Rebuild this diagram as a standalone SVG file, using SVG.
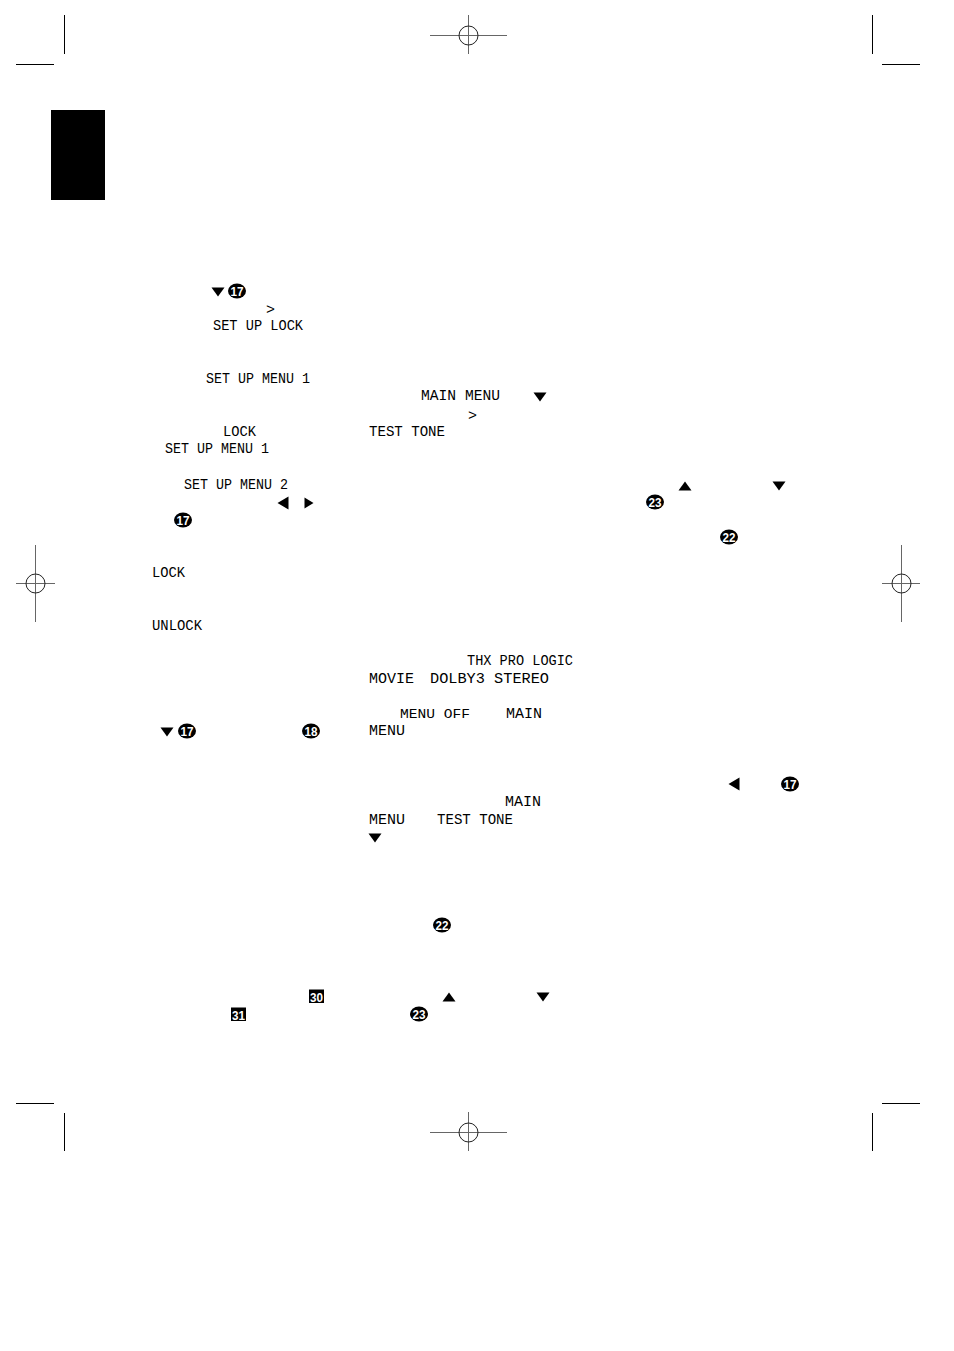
<svg xmlns="http://www.w3.org/2000/svg" width="954" height="1351" viewBox="0 0 954 1351">
<style>
.lcd{font-family:"Liberation Mono","DejaVu Sans Mono",monospace;font-size:15px;fill:#000}
.sm{font-size:12px}
.n{font-family:"Liberation Sans",Arial,sans-serif;font-size:13.500px;font-weight:bold;fill:#fff;text-anchor:middle}
.crop{stroke:#000;stroke-width:1;fill:none}
.reg{stroke:#666;stroke-width:1;fill:none}
</style>
<defs>
<path id="d" d="M-6.500-4.500H6.500L0 4.500Z"/>
<path id="u" d="M-6.500 4.500H6.500L0-4.500Z"/>
<path id="l" d="M5.500-6.500V6.500L-5.500 0Z"/>
<path id="r" d="M-4.500-5.500V5.500L4.500 0Z"/>
<g id="c17"><ellipse rx="9" ry="7.500"/><text class="n" y="5" textLength="13" lengthAdjust="spacingAndGlyphs">17</text></g>
<g id="c18"><ellipse rx="9" ry="7.500"/><text class="n" y="5" textLength="13" lengthAdjust="spacingAndGlyphs">18</text></g>
<g id="c22"><ellipse rx="9" ry="7.500"/><text class="n" y="5" textLength="13" lengthAdjust="spacingAndGlyphs">22</text></g>
<g id="c23"><ellipse rx="9" ry="7.500"/><text class="n" y="5" textLength="13" lengthAdjust="spacingAndGlyphs">23</text></g>
</defs>
<rect width="954" height="1351" fill="#fff"/>
<rect id="tab" x="51" y="110" width="54" height="90" fill="#000"/>
<g id="crop-marks" class="crop">
<path d="M64.500 15V54M16 64.500H54M872.500 15V54M882 64.500H920M16 1103.500H54M64.500 1113V1151M882 1103.500H920M872.500 1113V1151"/>
</g>
<g id="registration" class="reg">
<path d="M430 35.500H507M468.500 15V54"/><circle cx="468.500" cy="35.500" r="9.500" stroke="#222"/>
<path d="M430 1132.500H507M468.500 1112V1151"/><circle cx="468.500" cy="1132.500" r="9.500" stroke="#222"/>
<path d="M16 583.500H55M35.500 545V622"/><circle cx="35.500" cy="583.500" r="9.500" stroke="#222"/>
<path d="M882 583.500H920M901.500 545V622"/><circle cx="901.500" cy="583.500" r="9.500" stroke="#222"/>
</g>
<g id="labels">
<text class="lcd" x="266" y="314" textLength="8">&gt;</text>
<text class="lcd" x="213" y="330" textLength="90" lengthAdjust="spacingAndGlyphs">SET UP LOCK</text>
<text class="lcd" x="206" y="383" textLength="104" lengthAdjust="spacingAndGlyphs">SET UP MENU 1</text>
<text class="lcd" x="223" y="436" textLength="33" lengthAdjust="spacingAndGlyphs">LOCK</text>
<text class="lcd" x="165" y="453" textLength="104" lengthAdjust="spacingAndGlyphs">SET UP MENU 1</text>
<text class="lcd" x="184" y="489" textLength="104" lengthAdjust="spacingAndGlyphs">SET UP MENU 2</text>
<text class="lcd" x="152" y="577" textLength="33" lengthAdjust="spacingAndGlyphs">LOCK</text>
<text class="lcd" x="152" y="630" textLength="50" lengthAdjust="spacingAndGlyphs">UNLOCK</text>
<text class="lcd" x="421" y="400" textLength="79" lengthAdjust="spacingAndGlyphs">MAIN MENU</text>
<text class="lcd" x="468" y="420" textLength="8">&gt;</text>
<text class="lcd" x="369" y="436" textLength="76" lengthAdjust="spacingAndGlyphs">TEST TONE</text>
<text class="lcd" x="467" y="665" textLength="106" lengthAdjust="spacingAndGlyphs">THX PRO LOGIC</text>
<text class="lcd" x="369" y="683" textLength="45" lengthAdjust="spacingAndGlyphs">MOVIE</text>
<text class="lcd" x="430" y="683" textLength="119" lengthAdjust="spacingAndGlyphs">DOLBY3 STEREO</text>
<text class="lcd sm" x="400" y="718" textLength="70" lengthAdjust="spacingAndGlyphs">MENU OFF</text>
<text class="lcd" x="506" y="718" textLength="36" lengthAdjust="spacingAndGlyphs">MAIN</text>
<text class="lcd" x="369" y="735" textLength="36" lengthAdjust="spacingAndGlyphs">MENU</text>
<text class="lcd" x="505" y="806" textLength="36" lengthAdjust="spacingAndGlyphs">MAIN</text>
<text class="lcd" x="369" y="824" textLength="36" lengthAdjust="spacingAndGlyphs">MENU</text>
<text class="lcd" x="437" y="824" textLength="76" lengthAdjust="spacingAndGlyphs">TEST TONE</text>
</g>
<g id="symbols">
<use href="#d" x="218" y="292"/><use href="#c17" x="237" y="291"/>
<use href="#l" x="283" y="503"/><use href="#r" x="309" y="503"/>
<use href="#c17" x="183" y="520"/>
<use href="#d" x="167" y="732"/><use href="#c17" x="187" y="731"/><use href="#c18" x="311" y="731"/>
<use href="#d" x="540" y="397"/>
<use href="#u" x="685" y="486"/><use href="#d" x="779" y="486"/>
<use href="#c23" x="655" y="502"/><use href="#c22" x="729" y="537"/>
<use href="#l" x="734" y="784"/><use href="#c17" x="790" y="784"/>
<use href="#d" x="375" y="838"/>
<use href="#c22" x="442" y="925"/>
<use href="#u" x="449" y="997"/><use href="#d" x="543" y="997"/>
<use href="#c23" x="419" y="1014"/>
<g id="sq30"><rect x="309" y="989.500" width="15" height="13.500"/><text class="n" x="316.500" y="1001.500" textLength="13" lengthAdjust="spacingAndGlyphs">30</text></g>
<g id="sq31"><rect x="231" y="1007.500" width="15" height="13.500"/><text class="n" x="238.500" y="1019.500" textLength="13" lengthAdjust="spacingAndGlyphs">31</text></g>
</g>
</svg>
